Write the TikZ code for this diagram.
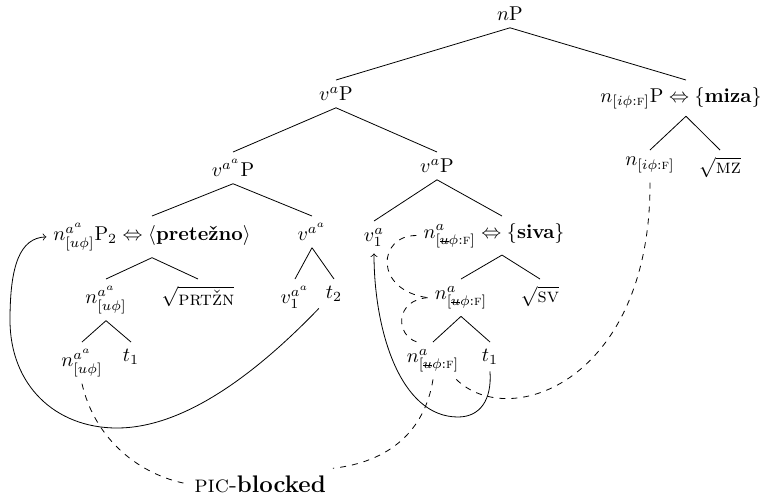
\documentclass[tikz,border=0pt]{standalone}
\usepackage{amsmath}
\usepackage{fontspec}
\newcommand{\Fsc}{\text{\textsc{f}}}
\newcommand{\su}{\text{\makebox[0pt][l]{\rule[0.2em]{0.62em}{0.35pt}}\makebox[0.62em]{$u$}}}
\begin{document}
\begin{tikzpicture}[x=0.5pt,y=-0.5pt,
  tn/.style={anchor=north},
  mv/.style={dashed},
  arr/.style={->}]
\useasboundingbox (0,0) rectangle (773,500);
% row 0
\node[tn] (nP) at (510,0) {$n\mathrm{P}$};
% row 1
\node[tn] (vP) at (336,80) {$v^{a}\mathrm{P}$};
\node[tn] (miza) at (681,80) {$n_{[i\phi{:}\Fsc]}\mathrm{P} \Leftrightarrow \{\textbf{miza}\}$};
% row 2
\node[tn] (vaaP) at (233,152) {$v^{a^{a}}\mathrm{P}$};
\node[tn] (vPr) at (437,152) {$v^{a}\mathrm{P}$};
\node[tn] (mizaN) at (650,150) {$n_{[i\phi{:}\Fsc]}$};
\node[tn] (MZ) at (720,150) {$\sqrt{\textsc{mz}}$};
% row 3
\node[tn] (n2P) at (152,216) {$n^{a^{a}}_{[u\phi]}\mathrm{P}_2 \Leftrightarrow \langle\textbf{pretežno}\rangle$};
\node[tn] (vaa) at (312,216) {$v^{a^{a}}$};
\node[tn] (v1a) at (374,221) {$v^{a}_{1}$};
\node[tn] (siva) at (494,216) {$n^{a}_{[\su\phi{:}\Fsc]} \Leftrightarrow \{\textbf{siva}\}$};
% row 4
\node[tn] (nA) at (106,279) {$n^{a^{a}}_{[u\phi]}$};
\node[tn] (prtzn) at (198,279) {$\sqrt{\textsc{prtžn}}$};
\node[tn] (v1aa) at (295,279) {$v^{a^{a}}_{1}$};
\node[tn] (t2) at (334,279) {$t_2$};
\node[tn] (nmid) at (461,279) {$n^{a}_{[\su\phi{:}\Fsc]}$};
\node[tn] (sv) at (540,279) {$\sqrt{\textsc{sv}}$};
% row 5
\node[tn] (nll) at (82,342) {$n^{a^{a}}_{[u\phi]}$};
\node[tn] (t1l) at (131,342) {$t_1$};
\node[tn] (nbot) at (433,342) {$n^{a}_{[\su\phi{:}\Fsc]}$};
\node[tn] (t1r) at (490,342) {$t_1$};
% bottom label
\node[anchor=base,font=\large] (pic) at (260,492) {\textsc{pic}-\textbf{blocked}};
% tree edges
\draw (nP.south) -- (vP.north);
\draw (nP.south) -- ([xshift=2.5pt]miza.north);
\draw (vP.south) -- (vaaP.north);
\draw (vP.south) -- (vPr.north);
\draw ([xshift=2.5pt]miza.south) -- (mizaN.north);
\draw ([xshift=2.5pt]miza.south) -- (MZ.north);
\draw (vaaP.south) -- (n2P.north);
\draw (vaaP.south) -- (vaa.north);
\draw (vPr.south) -- (v1a.north);
\draw (vPr.south) -- ([xshift=4pt]siva.north);
\draw (n2P.south) -- (nA.north);
\draw (n2P.south) -- (prtzn.north);
\draw (vaa.south) -- (v1aa.north);
\draw (vaa.south) -- (t2.north);
\draw ([xshift=4pt]siva.south) -- (nmid.north);
\draw ([xshift=4pt]siva.south) -- (sv.north);
\draw (nA.south) -- (nll.north);
\draw (nA.south) -- (t1l.north);
\draw (nmid.south) -- (nbot.north);
\draw (nmid.south) -- (t1r.north);
% movement arrows
\draw[arr] (t2.south west) .. controls (250,380) and (180,428) .. (117,428)
  .. controls (55,428) and (10,385) .. (10,320)
  .. controls (10,265) and (20,238) .. (n2P.west);
\draw[arr] (t1r.south) .. controls (492,400) and (480,417) .. (458,417)
  .. controls (400,417) and (374,330) .. (v1a.south);
% dashed dependencies
\draw[mv] (siva.west) .. controls (378,235) and (373,290) .. (nmid.west);
\draw[mv] (nmid.west) .. controls (395,300) and (395,335) .. ([xshift=-8pt]nbot.north);
\draw[mv] ([xshift=-5pt]nbot.south east) .. controls (510,432) and (652,380) .. (mizaN.south);
\draw[mv] (nll.south) .. controls (95,440) and (140,475) .. (pic.west);
\draw[mv] (nbot.south) .. controls (425,430) and (390,462) .. (pic.north east);
\end{tikzpicture}
\end{document}
